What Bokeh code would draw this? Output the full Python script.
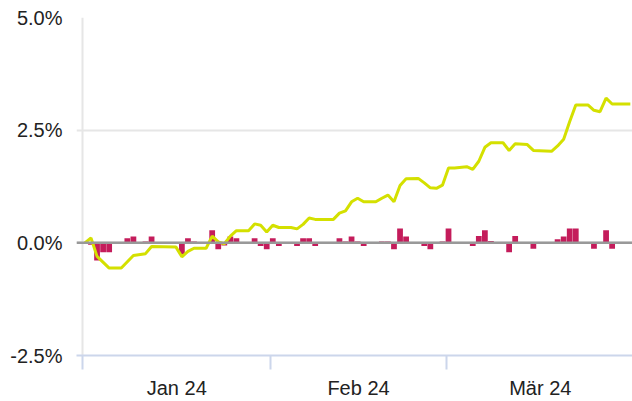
import datetime as dt
from bokeh.plotting import figure
from bokeh.models import ColumnDataSource, FixedTicker, Range1d, Span
from bokeh.embed import file_html
from bokeh.resources import INLINE

# ---------------- data ----------------
origin = dt.date(2024, 1, 1)
month_labels = ["Jan 24", "Feb 24", "Mär 24"]
month_starts = ["2024-01-01", "2024-02-01", "2024-03-01", "2024-04-01"]

y_ticks = [-2.5, 0.0, 2.5, 5.0]
y_tick_labels = ["-2.5%", "0.0%", "2.5%", "5.0%"]

# cumulative performance (%)
line_dates = [
    "2024-01-01", "2024-01-02", "2024-01-03", "2024-01-05", "2024-01-07", "2024-01-09",
    "2024-01-11", "2024-01-12", "2024-01-16", "2024-01-17", "2024-01-18", "2024-01-19",
    "2024-01-21", "2024-01-22", "2024-01-23", "2024-01-24", "2024-01-25", "2024-01-26",
    "2024-01-28", "2024-01-29", "2024-01-30", "2024-01-31", "2024-02-01", "2024-02-02",
    "2024-02-04", "2024-02-05", "2024-02-06", "2024-02-07", "2024-02-08", "2024-02-11",
    "2024-02-12", "2024-02-13", "2024-02-14", "2024-02-15", "2024-02-16", "2024-02-18",
    "2024-02-19", "2024-02-20", "2024-02-21", "2024-02-22", "2024-02-23", "2024-02-25",
    "2024-02-26", "2024-02-27", "2024-02-28", "2024-02-29", "2024-03-01", "2024-03-02",
    "2024-03-04", "2024-03-05", "2024-03-06", "2024-03-07", "2024-03-08", "2024-03-10",
    "2024-03-11", "2024-03-12", "2024-03-14", "2024-03-15", "2024-03-18", "2024-03-19",
    "2024-03-20", "2024-03-21", "2024-03-22", "2024-03-24", "2024-03-25", "2024-03-26",
    "2024-03-27", "2024-03-28", "2024-03-31",
]
line_values = [
    0.00, 0.11, -0.30, -0.56, -0.56, -0.28,
    -0.24, -0.08, -0.09, -0.31, -0.19, -0.12,
    -0.12, 0.15, 0.02, -0.02, 0.15, 0.27,
    0.27, 0.42, 0.39, 0.24, 0.39, 0.34,
    0.34, 0.31, 0.41, 0.55, 0.52, 0.52,
    0.66, 0.71, 0.91, 0.99, 0.91, 0.91,
    0.99, 1.06, 0.91, 1.27, 1.42, 1.43,
    1.33, 1.22, 1.21, 1.28, 1.66, 1.66,
    1.69, 1.63, 1.81, 2.12, 2.22, 2.22,
    2.05, 2.20, 2.18, 2.05, 2.03, 2.15,
    2.30, 2.69, 3.06, 3.06, 2.94, 2.91,
    3.21, 3.08, 3.08,
]

# daily performance (%)
bar_dates = [
    "2024-01-02", "2024-01-03", "2024-01-04", "2024-01-05", "2024-01-08", "2024-01-09",
    "2024-01-11", "2024-01-12", "2024-01-17", "2024-01-18", "2024-01-19", "2024-01-22",
    "2024-01-23", "2024-01-24", "2024-01-25", "2024-01-26", "2024-01-29", "2024-01-30",
    "2024-01-31", "2024-02-01", "2024-02-02", "2024-02-05", "2024-02-06", "2024-02-07",
    "2024-02-08", "2024-02-12", "2024-02-13", "2024-02-14", "2024-02-15", "2024-02-16",
    "2024-02-19", "2024-02-20", "2024-02-21", "2024-02-22", "2024-02-23", "2024-02-26",
    "2024-02-27", "2024-02-29", "2024-03-01", "2024-03-05", "2024-03-06", "2024-03-07",
    "2024-03-08", "2024-03-11", "2024-03-12", "2024-03-15", "2024-03-19", "2024-03-20",
    "2024-03-21", "2024-03-22", "2024-03-25", "2024-03-27", "2024-03-28",
]
bar_values = [
    -0.04, -0.39, -0.21, -0.21, 0.10, 0.14,
    0.03, 0.14, -0.26, 0.10, 0.03, 0.28,
    -0.14, -0.06, 0.14, 0.10, 0.10, -0.07,
    -0.14, 0.10, -0.07, -0.07, 0.10, 0.10,
    -0.07, 0.10, 0.03, 0.14, 0.03, -0.07,
    0.03, 0.03, -0.14, 0.32, 0.14, -0.07,
    -0.14, 0.03, 0.32, -0.07, 0.15, 0.28,
    0.04, -0.21, 0.15, -0.13, 0.08, 0.14,
    0.32, 0.32, -0.13, 0.28, -0.13,
]

# ---------------- helpers / style ----------------
POINT_SHIFT = 0.35          # data points sit a little after midnight on the time axis


def day(s):
    return (dt.date.fromisoformat(s) - origin).days


month_bounds = [day(s) for s in month_starts]
month_mids = [(a + b) / 2 for a, b in zip(month_bounds[:-1], month_bounds[1:])]

line_src = ColumnDataSource(dict(x=[day(s) + POINT_SHIFT for s in line_dates], y=line_values))
bar_src = ColumnDataSource(dict(x=[day(s) + POINT_SHIFT for s in bar_dates], top=bar_values))

FONT = "Liberation Sans"
TEXT = "#222222"

p = figure(
    width=632, height=401,
    output_backend="svg", toolbar_location=None,
    x_range=Range1d(-1.04, 90.71), y_range=Range1d(y_ticks[0], y_ticks[-1]),
    min_border_left=76, min_border_right=0, min_border_top=17, min_border_bottom=0,
)
p.outline_line_color = None
p.background_fill_color = "white"
p.border_fill_color = "white"

# y axis
p.yaxis.ticker = FixedTicker(ticks=y_ticks)
p.yaxis.major_label_overrides = {t: l for t, l in zip(y_ticks, y_tick_labels)}
p.yaxis.axis_line_color = None
p.yaxis.major_tick_line_color = None
p.yaxis.minor_tick_line_color = None
p.yaxis.major_tick_out = 0
p.yaxis.minor_tick_out = 0
p.yaxis.major_label_standoff = 14
p.yaxis.major_label_text_font = FONT
p.yaxis.major_label_text_font_size = "20px"
p.yaxis.major_label_text_color = TEXT

# x axis: labels mid-month, tick marks at month boundaries
p.xaxis.ticker = FixedTicker(ticks=month_mids, minor_ticks=month_bounds)
p.xaxis.major_label_overrides = {t: l for t, l in zip(month_mids, month_labels)}
p.xaxis.major_tick_line_color = None
p.xaxis.major_tick_out = 0
p.xaxis.major_tick_in = 0
p.xaxis.minor_tick_line_color = "#ccd6eb"
p.xaxis.minor_tick_line_width = 2
p.xaxis.minor_tick_out = 14
p.xaxis.minor_tick_in = 0
p.xaxis.axis_line_color = "#ccd6eb"
p.xaxis.axis_line_width = 2
p.xaxis.major_label_standoff = 7
p.xaxis.major_label_text_font = FONT
p.xaxis.major_label_text_font_size = "20px"
p.xaxis.major_label_text_color = TEXT

# grids
p.ygrid.grid_line_color = "#e6e6e6"
p.ygrid.grid_line_width = 2
p.xgrid.ticker = FixedTicker(ticks=month_bounds[:1])
p.xgrid.grid_line_color = "#e6e6e6"
p.xgrid.grid_line_width = 2

p.add_layout(Span(location=0, dimension="width", line_color="#999999", line_width=2.5))

p.vbar(x="x", top="top", bottom=0, width=0.95, source=bar_src,
       fill_color="#C41C5B", line_color=None)
p.line(x="x", y="y", source=line_src, line_color="#D4E000", line_width=3)

open("out.html", "w").write(file_html(p, INLINE))
